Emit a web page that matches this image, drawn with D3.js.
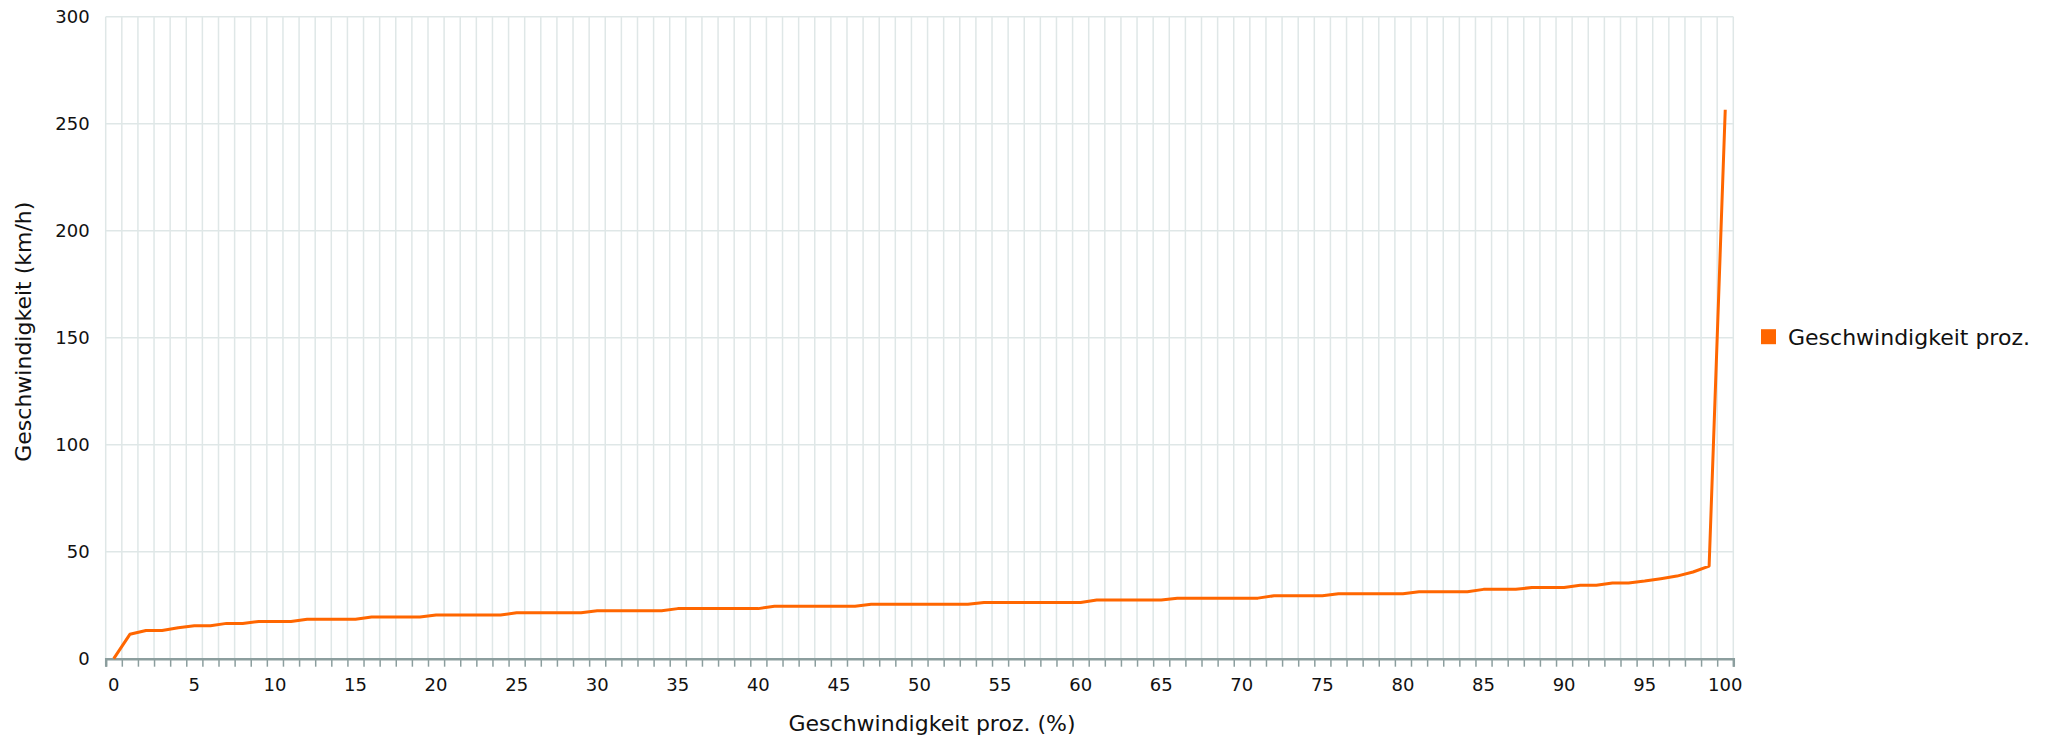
<!DOCTYPE html>
<html>
<head>
<meta charset="utf-8">
<script src="https://cdn.jsdelivr.net/npm/d3@7"></script>
<style>
  body { margin: 0; background: #fff; }
  text { font-family: "DejaVu Sans", sans-serif; fill: #111; }
</style>
</head>
<body>
<svg id="chart"></svg>
<script>
// percentile categories 0..100
const percentiles = d3.range(0, 101);

// speed (km/h) per percentile
const speeds = [
  0, 11.4, 13.2, 13.2, 14.5, 15.4, 15.4, 16.5, 16.5, 17.4,
  17.4, 17.4, 18.4, 18.4, 18.4, 18.4, 19.5, 19.5, 19.5, 19.5,
  20.4, 20.4, 20.4, 20.4, 20.4, 21.5, 21.5, 21.5, 21.5, 21.5,
  22.4, 22.4, 22.4, 22.4, 22.4, 23.4, 23.4, 23.4, 23.4, 23.4,
  23.4, 24.5, 24.5, 24.5, 24.5, 24.5, 24.5, 25.4, 25.4, 25.4,
  25.4, 25.4, 25.4, 25.4, 26.3, 26.3, 26.3, 26.3, 26.3, 26.3,
  26.3, 27.4, 27.4, 27.4, 27.4, 27.4, 28.3, 28.3, 28.3, 28.3,
  28.3, 28.3, 29.4, 29.4, 29.4, 29.4, 30.4, 30.4, 30.4, 30.4,
  30.4, 31.3, 31.3, 31.3, 31.3, 32.4, 32.4, 32.4, 33.3, 33.3,
  33.3, 34.3, 34.3, 35.4, 35.4, 36.3, 37.4, 38.6, 40.5, 43.3,
  256.5
];

const yTicks = [0, 50, 100, 150, 200, 250, 300];
const xLabelTicks = [0, 5, 10, 15, 20, 25, 30, 35, 40, 45, 50, 55, 60, 65, 70, 75, 80, 85, 90, 95, 100];

const seriesName = "Geschwindigkeit proz.";
const xTitle = "Geschwindigkeit proz. (%)";
const yTitle = "Geschwindigkeit (km/h)";

const W = 2055, H = 739;
const plotLeft = 105.7, plotRight = 1733.3, plotTop = 16.7, plotBottom = 658.7;

const svg = d3.select("#chart").attr("width", W).attr("height", H);

const x = d3.scaleBand().domain(percentiles).range([plotLeft, plotRight]).padding(0);
const bw = x.bandwidth();
// edges between categories
const xEdge = d3.scaleLinear().domain([0, percentiles.length]).range([plotLeft, plotRight]);
const y = d3.scaleLinear().domain([0, 300]).range([plotBottom, plotTop]);

// vertical grid at category boundaries
svg.append("g")
  .selectAll("line")
  .data(d3.range(0, percentiles.length + 1))
  .enter().append("line")
  .attr("x1", d => xEdge(d)).attr("x2", d => xEdge(d))
  .attr("y1", plotTop).attr("y2", plotBottom)
  .attr("stroke", "#dfe7e7")
  .attr("stroke-width", 1.5);

// horizontal grid
svg.append("g")
  .selectAll("line")
  .data(yTicks)
  .enter().append("line")
  .attr("x1", plotLeft).attr("x2", plotRight)
  .attr("y1", d => y(d)).attr("y2", d => y(d))
  .attr("stroke", "#dfe7e7")
  .attr("stroke-width", 1.5);

// y axis labels
const yAxis = svg.append("g")
  .attr("transform", `translate(${plotLeft},0)`)
  .call(d3.axisLeft(y).tickValues(yTicks).tickSize(0).tickPadding(16));
yAxis.select(".domain").remove();
yAxis.selectAll("text").style("font-size", "18px");

// x axis tick marks at boundaries
const xTickAxis = svg.append("g")
  .attr("transform", `translate(0,${plotBottom})`)
  .call(d3.axisBottom(xEdge).tickValues(d3.range(0, percentiles.length + 1)).tickSize(8).tickFormat(""));
xTickAxis.select(".domain").attr("stroke", "#8c9e9e").attr("stroke-width", 2.5);
xTickAxis.selectAll(".tick line").attr("stroke", "#8c9e9e").attr("stroke-width", 1.5);

// x axis labels at category centers
const xLabelAxis = svg.append("g")
  .attr("transform", `translate(0,${plotBottom})`)
  .call(d3.axisBottom(x).tickValues(xLabelTicks).tickSize(0).tickPadding(20));
xLabelAxis.select(".domain").remove();
xLabelAxis.selectAll("text").style("font-size", "18px");

// line
const line = d3.line()
  .x((d, i) => x(percentiles[i]) + bw / 2)
  .y(d => y(d));

svg.append("path")
  .datum(speeds)
  .attr("fill", "none")
  .attr("stroke", "#ff6600")
  .attr("stroke-width", 3)
  .attr("stroke-linejoin", "round")
  .attr("d", line);

// axis titles
svg.append("text")
  .attr("x", 932).attr("y", 731)
  .attr("text-anchor", "middle")
  .style("font-size", "22px")
  .text(xTitle);

svg.append("text")
  .attr("transform", `translate(31,${(plotTop + plotBottom) / 2 - 6}) rotate(-90)`)
  .attr("text-anchor", "middle")
  .style("font-size", "22px")
  .text(yTitle);

// legend
const legend = svg.append("g").attr("transform", `translate(1761,${(plotTop + plotBottom) / 2})`);
legend.append("rect")
  .attr("x", 0).attr("y", -8.5)
  .attr("width", 15).attr("height", 15)
  .attr("fill", "#ff6600");
legend.append("text")
  .attr("x", 27).attr("y", 0)
  .attr("dy", "0.35em")
  .style("font-size", "22px")
  .text(seriesName);
</script>
</body>
</html>
